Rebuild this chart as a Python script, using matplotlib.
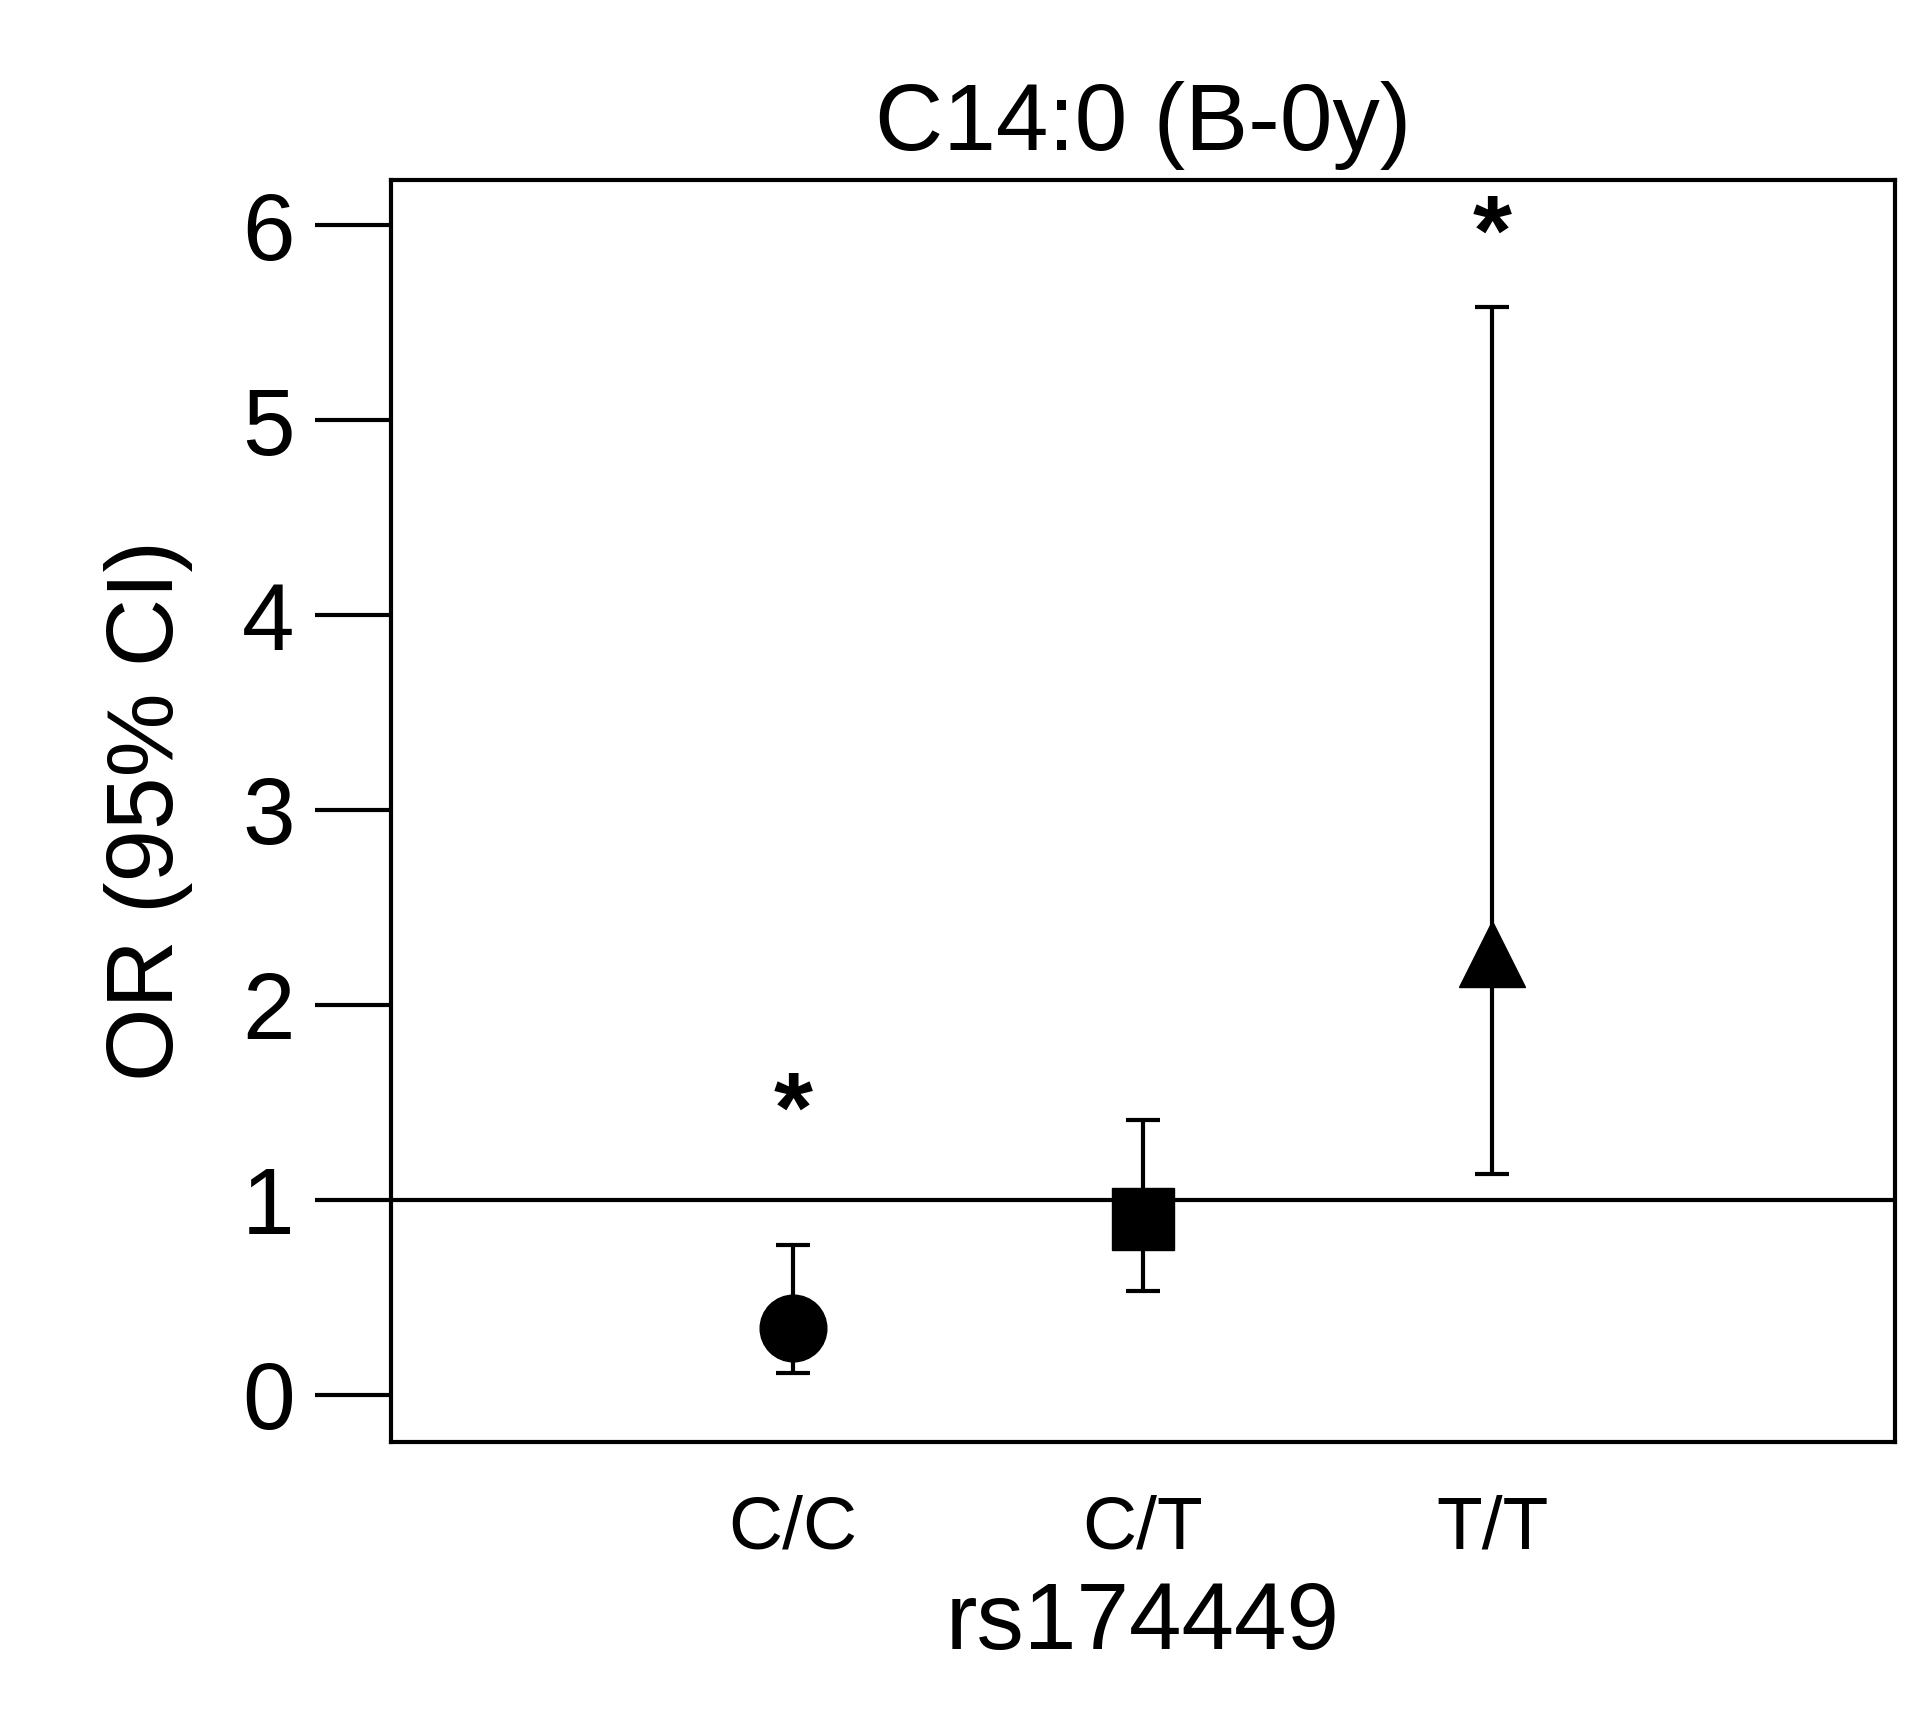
import matplotlib
matplotlib.use("Agg")
import matplotlib.pyplot as plt

categories = ["C/C", "C/T", "T/T"]
or_values = [0.34, 0.90, 2.26]
ci_lower = [0.11, 0.53, 1.13]
ci_upper = [0.77, 1.41, 5.58]
markers = ["o", "s", "^"]
star_y = [1.43, None, 5.93]
yticks = [0, 1, 2, 3, 4, 5, 6]

plt.rcParams['font.family'] = ['Liberation Sans', 'DejaVu Sans']
fig = plt.figure(figsize=(19.28, 17.12), dpi=100)
ax = fig.add_axes([0.2026, 0.158, 0.7801, 0.7366])

ax.axhline(1, color="black", lw=3, zorder=1)
for i, (v, lo, hi, m) in enumerate(zip(or_values, ci_lower, ci_upper, markers)):
    ax.errorbar(i, v, yerr=[[v - lo], [hi - v]], fmt="none", ecolor="black",
                elinewidth=3, capsize=12, capthick=3, zorder=2)
    ax.plot(i, v, marker=m, color="black", markersize=48 if m != "s" else 44, zorder=3)
    if star_y[i] is not None:
        ax.text(i, star_y[i], "*", ha="center", va="center", fontsize=72, fontweight="bold")

ax.set_xlim(-1.15, 3.15)
ax.set_ylim(-0.24, 6.23)
ax.set_xticks(range(len(categories)))
ax.set_xticklabels(categories, fontsize=54)
ax.tick_params(axis="x", length=0, pad=38)
ax.set_yticks(yticks)
ax.set_yticklabels([str(t) for t in yticks], fontsize=68)
ax.tick_params(axis="y", length=55, width=3, pad=14)
for s in ax.spines.values():
    s.set_linewidth(3)
ax.set_title("C14:0 (B-0y)", fontsize=68, pad=22)
ax.set_xlabel("rs174449", fontsize=68, labelpad=12)
ax.set_ylabel("OR (95% CI)", fontsize=68, labelpad=35)
fig.savefig("out.png", dpi=100, facecolor="white")
